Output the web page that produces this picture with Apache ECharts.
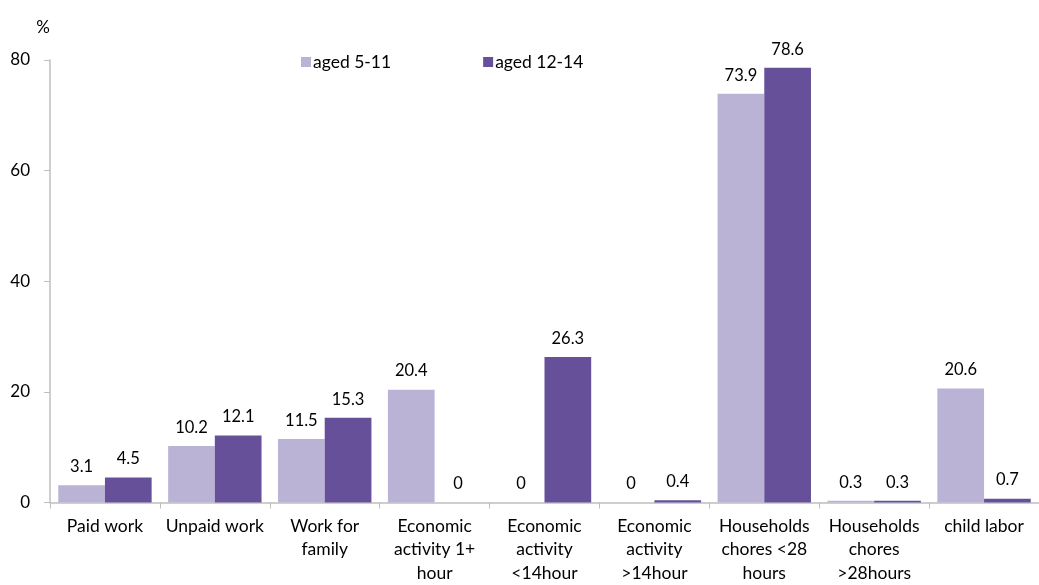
<!DOCTYPE html>
<html>
<head>
<meta charset="utf-8">
<script src="https://cdn.jsdelivr.net/npm/echarts@6/dist/echarts.min.js"></script>
<style>html,body{margin:0;padding:0;background:#fff;}#c{width:1039px;height:585px;}</style>
</head>
<body>
<div id="c"></div>
<script>
const categories = ["Paid work", "Unpaid work", "Work for\nfamily", "Economic\nactivity 1+\nhour", "Economic\nactivity\n<14hour", "Economic\nactivity\n>14hour", "Households\nchores <28\nhours", "Households\nchores\n>28hours", "child labor"];
const aged5to11 = [3.1, 10.2, 11.5, 20.4, 0, 0, 73.9, 0.3, 20.6];
const aged12to14 = [4.5, 12.1, 15.3, 0, 26.3, 0.4, 78.6, 0.3, 0.7];
const seriesNames = ["aged 5-11", "aged 12-14"];
const yTicks = [0, 20, 40, 60, 80];

const FONT = "Lato, 'Open Sans', sans-serif";
const chart = echarts.init(document.getElementById('c'), null, {renderer: 'canvas'});
chart.setOption({
  animation: false,
  backgroundColor: '#ffffff',
  textStyle: {fontFamily: FONT},
  legend: {
    data: seriesNames,
    top: 48, left: 296,
    itemWidth: 10, itemHeight: 10, itemGap: 92,
    icon: 'rect',
    textStyle: {fontSize: 17.5, color: '#000', fontFamily: FONT, padding: [0, 0, 0, -3]}
  },
  grid: {left: 50, top: 60, bottom: 82, width: 1001, containLabel: false},
  xAxis: {
    type: 'category',
    data: categories,
    axisLine: {lineStyle: {color: '#bfbfbf', width: 1.5}},
    axisTick: {show: true, length: 6, lineStyle: {color: '#bfbfbf'}},
    axisLabel: {fontSize: 17.5, color: '#000', fontFamily: FONT, lineHeight: 23.5, margin: 12, interval: 0}
  },
  yAxis: {
    type: 'value', min: 0, max: 80, interval: 20,
    name: '%', nameLocation: 'end', nameGap: 24,
    nameTextStyle: {fontSize: 17, color: '#000', fontFamily: FONT, align: 'right', padding: [0, 0, 0, 0]},
    axisLine: {show: true, lineStyle: {color: '#bfbfbf', width: 1.5}},
    axisTick: {show: true, length: 6, lineStyle: {color: '#bfbfbf'}},
    splitLine: {show: false},
    axisLabel: {fontSize: 17, color: '#000', fontFamily: FONT, margin: 20,
      formatter: v => yTicks.includes(v) ? String(v) : ''}
  },
  series: [
    {
      name: seriesNames[0], type: 'bar', data: aged5to11,
      barGap: '0%', barCategoryGap: '15%',
      itemStyle: {color: '#bbb3d6'},
      label: {show: true, position: 'top', distance: 10, fontSize: 16.5, color: '#000', fontFamily: FONT}
    },
    {
      name: seriesNames[1], type: 'bar', data: aged12to14,
      barGap: '0%', barCategoryGap: '15%',
      itemStyle: {color: '#67509a'},
      label: {show: true, position: 'top', distance: 10, fontSize: 16.5, color: '#000', fontFamily: FONT}
    }
  ]
});
</script>
</body>
</html>
